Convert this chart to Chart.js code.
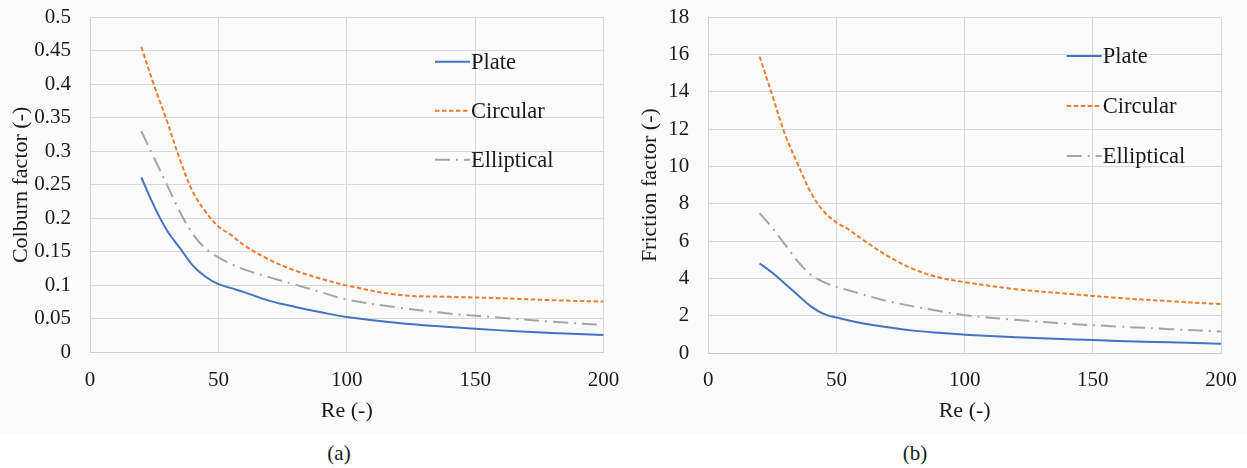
<!DOCTYPE html>
<html>
<head>
<meta charset="utf-8">
<script src="https://cdn.jsdelivr.net/npm/chart.js@4.4.1/dist/chart.umd.min.js"></script>
<style>
  body { margin: 0; background: #fff; width: 1247px; height: 468px; position: relative; overflow: hidden;
         font-family: "Liberation Serif", "Times New Roman", serif; }
  .panel { position: absolute; top: 0; left: 0; width: 1247px; height: 435px; background: #fbfbfb; }
  canvas { position: absolute; top: 0; }
  .cap { position: absolute; font-size: 21px; color: #1a1a1a; transform: translate(-50%, -50%); }
</style>
</head>
<body>
<div class="panel"></div>
<canvas id="chartA" width="625" height="440" style="left:0"></canvas>
<canvas id="chartB" width="625" height="440" style="left:620px"></canvas>
<div class="cap" style="left:339px;top:453px">(a)</div>
<div class="cap" style="left:915px;top:453px">(b)</div>

<script>
// ── data ──
const reValues = [20, 25, 30, 35, 40, 45, 50, 55, 60, 70, 80, 90, 100, 120, 140, 160, 180, 200];

const colburnPlate      = [0.261, 0.218, 0.182, 0.156, 0.130, 0.113, 0.102, 0.096, 0.090, 0.077, 0.068, 0.060, 0.053, 0.044, 0.038, 0.033, 0.029, 0.026];
const colburnCircular   = [0.456, 0.398, 0.345, 0.288, 0.240, 0.210, 0.188, 0.175, 0.160, 0.138, 0.122, 0.110, 0.100, 0.086, 0.083, 0.081, 0.078, 0.076];
const colburnElliptical = [0.330, 0.290, 0.250, 0.210, 0.177, 0.155, 0.142, 0.132, 0.124, 0.112, 0.101, 0.090, 0.079, 0.067, 0.058, 0.052, 0.046, 0.041];

const frictionPlate      = [4.8, 4.3, 3.7, 3.1, 2.5, 2.1, 1.9, 1.74, 1.6, 1.38, 1.2, 1.08, 0.98, 0.85, 0.74, 0.65, 0.57, 0.50];
const frictionCircular   = [15.9, 13.8, 11.7, 10.1, 8.6, 7.6, 7.0, 6.6, 6.1, 5.2, 4.5, 4.05, 3.8, 3.42, 3.18, 2.95, 2.78, 2.62];
const frictionElliptical = [7.5, 6.7, 5.8, 4.9, 4.2, 3.8, 3.55, 3.35, 3.15, 2.78, 2.5, 2.25, 2.03, 1.78, 1.57, 1.42, 1.28, 1.15];

const seriesNames = ['Plate', 'Circular', 'Elliptical'];

const FONT = 'Liberation Serif';
const INK = '#1a1a1a';
const GRID = '#d9d9d9';

// ── legend drawn inside the plot, Excel style ──
const insideLegend = {
  id: 'insideLegend',
  afterDatasetsDraw(chart, args, opts) {
    const c = chart.ctx;
    c.save();
    c.font = '22.5px "' + FONT + '"';
    c.textBaseline = 'middle';
    c.fillStyle = INK;
    chart.data.datasets.forEach((ds, i) => {
      const y = opts.y + i * opts.gap;
      c.strokeStyle = ds.borderColor;
      c.lineWidth = ds.borderWidth;
      c.setLineDash(ds.borderDash || []);
      c.beginPath();
      c.moveTo(opts.x, y);
      c.lineTo(opts.x + 35, y);
      c.stroke();
      c.setLineDash([]);
      c.fillText(ds.label, opts.x + 36, y + 1);
    });
    c.restore();
  }
};

function makeDatasets(plate, circular, elliptical) {
  const styles = [
    { borderColor: '#4472c4', borderDash: [] },
    { borderColor: '#ed7d31', borderDash: [4.5, 2.5] },
    { borderColor: '#a5a5a5', borderDash: [15, 6, 2, 6] },
  ];
  return [plate, circular, elliptical].map((vals, i) => ({
    label: seriesNames[i],
    data: reValues.map((re, j) => ({ x: re, y: vals[j] })),
    borderColor: styles[i].borderColor,
    borderDash: styles[i].borderDash,
    borderWidth: 2,
    pointRadius: 0,
    fill: false,
    tension: 0.35,
  }));
}

function makeChart(id, datasets, cfg) {
  const tickFont = { family: FONT, size: 21 };
  const titleFont = { family: FONT, size: 22 };
  return new Chart(document.getElementById(id), {
    type: 'line',
    data: { datasets },
    plugins: [insideLegend],
    options: {
      responsive: false,
      animation: false,
      layout: { padding: { left: 0, top: 17.3, right: cfg.padRight, bottom: 0 } },
      plugins: {
        legend: { display: false },
        tooltip: { enabled: false },
        insideLegend: cfg.legend,
      },
      scales: {
        x: {
          type: 'linear', min: 0, max: 200,
          ticks: { stepSize: 50, color: INK, font: tickFont, padding: 15 },
          grid: { color: GRID, drawTicks: false },
          border: { color: '#cfcfcf' },
          title: { display: true, text: 'Re (-)', color: INK, font: titleFont, padding: { top: 0, bottom: 16 } },
          afterFit: s => { s.height = cfg.xHeight; s.paddingLeft = 0; s.paddingRight = 0; },
        },
        y: {
          min: 0, max: cfg.yMax,
          ticks: { stepSize: cfg.yStep, color: INK, font: tickFont, padding: 19,
                   callback: v => String(+v.toFixed(2)) },
          grid: { color: GRID, drawTicks: false },
          border: { color: '#cfcfcf' },
          title: { display: true, text: cfg.yTitle, color: INK, font: titleFont, padding: { top: cfg.yTitlePad, bottom: 0 } },
          afterFit: s => { s.width = cfg.yWidth; s.paddingTop = 0; s.paddingBottom = 0; },
        }
      }
    }
  });
}

makeChart('chartA', makeDatasets(colburnPlate, colburnCircular, colburnElliptical), {
  yMax: 0.5, yStep: 0.05, yTitle: 'Colburn factor (-)', yTitlePad: 8,
  yWidth: 90, xHeight: 87.5, padRight: 21.5,
  legend: { x: 435, y: 61.7, gap: 49 },
});

makeChart('chartB', makeDatasets(frictionPlate, frictionCircular, frictionElliptical), {
  yMax: 18, yStep: 2, yTitle: 'Friction factor (-)', yTitlePad: 17,
  yWidth: 88.3, xHeight: 87, padRight: 24,
  legend: { x: 446.7, y: 56, gap: 50 },
});
</script>
</body>
</html>
